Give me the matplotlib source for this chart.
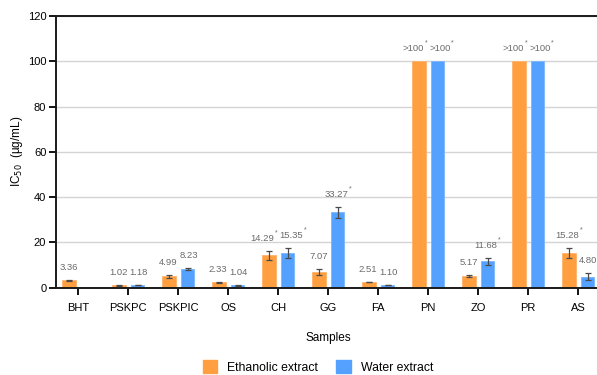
import numpy as np
import matplotlib
matplotlib.use("Agg")
import matplotlib.pyplot as plt
from matplotlib.patches import Patch

plt.rcParams['font.family'] = ['Liberation Sans', 'DejaVu Sans']

samples = ["BHT", "PSKPC", "PSKPIC", "OS", "CH", "GG", "FA", "PN", "ZO", "PR", "AS"]

# IC50 values (µg/mL); PN and PR exceed the tested range and are shown at 100
eth_vals = [3.36, 1.02, 4.99, 2.33, 14.29, 7.07, 2.51, 100, 5.17, 100, 15.28]
eth_err = [0.2, 0.15, 0.8, 0.3, 1.9, 1.3, 0.2, 0, 0.4, 0, 2.3]
eth_above = [False, False, False, False, False, False, False, True, False, True, False]
eth_star = [False, False, False, False, True, False, False, True, False, True, True]

wat_vals = [np.nan, 1.18, 8.23, 1.04, 15.35, 33.27, 1.10, 100, 11.68, 100, 4.80]
wat_err = [0, 0.15, 0.6, 0.1, 2.2, 2.4, 0.1, 0, 1.5, 0, 1.5]
wat_above = [False, False, False, False, False, False, False, True, False, True, False]
wat_star = [False, False, False, False, True, True, False, True, True, True, False]

orange = "#FF9F40"
blue = "#55A1FF"
label_color = "#6b6b6b"

fig = plt.figure(figsize=(5.97, 3.75), dpi=100)
ax = fig.add_axes([56 / 597, 1 - 287.7 / 375, (600.6 - 56) / 597, (287.7 - 16) / 375])

x = np.arange(len(samples))
w = 0.27
off = 0.188

ax.set_ylim(0, 120)
ax.set_xlim(-0.446, len(samples) - 1 + 0.446)
ax.set_yticks(np.arange(0, 121, 20))
ax.yaxis.grid(True, color="#d4d4d4", linewidth=1)
ax.set_axisbelow(True)

ax.bar(x - off, eth_vals, w, color=orange, edgecolor="#FFB26B", linewidth=0.6, zorder=2)
ax.bar(x + off, wat_vals, w, color=blue, edgecolor="#7AB6FF", linewidth=0.6, zorder=2)

for xs, vals, errs in [(x - off, eth_vals, eth_err), (x + off, wat_vals, wat_err)]:
    v = np.array(vals, dtype=float)
    e = np.array(errs, dtype=float)
    m = (e > 0) & ~np.isnan(v)
    ax.errorbar(xs[m], v[m], yerr=e[m], fmt="none", ecolor="#4a4a4a",
                elinewidth=0.9, capsize=2.2, capthick=0.9, zorder=3)

# value labels, one pair per sample
pairs = []
for i in range(len(samples)):
    pair = []
    for xi, vals, errs, above, stars in [(x[i] - off, eth_vals, eth_err, eth_above, eth_star),
                                         (x[i] + off, wat_vals, wat_err, wat_above, wat_star)]:
        v, e, a, s = vals[i], errs[i], above[i], stars[i]
        if np.isnan(v):
            pair.append(None)
            continue
        txt = f">{v:.0f}" if a else f"{v:.2f}"
        t = ax.annotate(txt, (xi, v + e), xytext=(0, 9), textcoords="offset points",
                        ha="center", va="center", fontsize=6.8, color=label_color, zorder=4)
        pair.append((t, s))
    pairs.append(pair)

star_w = 3.0  # px taken by the superscript asterisk
px2pt = 72 / fig.dpi
fig.canvas.draw()

# keep the asterisk inside each label's footprint and push crowded pairs apart
for pair in pairs:
    ext = []
    for item in pair:
        if item is None:
            ext.append(None)
            continue
        t, s = item
        bb = t.get_window_extent()
        ext.append([bb.x0, bb.x1 + (star_w if s else 0), bb.y0, bb.y1])
    for k, item in enumerate(pair):
        if item is not None and item[1]:
            item[0].xyann = (-star_w / 2 * px2pt, 9)
            ext[k][0] -= star_w / 2
            ext[k][1] -= star_w / 2
    if pair[0] is not None and pair[1] is not None:
        a, b = ext
        gap = 2.0
        vert = not (a[3] < b[2] or b[3] < a[2])
        overlap = a[1] + gap - b[0]
        if vert and overlap > 0:
            for k, sign in [(0, -1), (1, 1)]:
                dx, dy = pair[k][0].xyann
                pair[k][0].xyann = (dx + sign * overlap / 2 * px2pt, dy)

fig.canvas.draw()
inv = fig.transFigure.inverted()
for pair in pairs:
    for item in pair:
        if item is None or not item[1]:
            continue
        bb = item[0].get_window_extent()
        fx, fy = inv.transform((bb.x1 + 0.5, bb.y1 + 1))
        fig.text(fx, fy, "*", fontsize=5, color=label_color, ha="left", va="center")

ax.set_xticks(x)
ax.set_xticklabels(samples)
ax.tick_params(axis="x", length=5, width=1.3, labelsize=8, pad=6)
ax.tick_params(axis="y", length=5, width=1.3, labelsize=8, pad=2)

for side in ["left", "bottom", "top"]:
    ax.spines[side].set_linewidth(1.4)
    ax.spines[side].set_color("#1a1a1a")
ax.spines["right"].set_visible(False)

ax.set_xlabel("Samples", fontsize=8.5, labelpad=14)
ax.set_ylabel("IC$_{50}$  (µg/mL)", fontsize=8.5)
ax.yaxis.set_label_coords((17 - 56) / 544.6, 0.5)
ax.yaxis.label.set_va("center")

handles = [Patch(facecolor=orange, edgecolor=orange, label="Ethanolic extract"),
           Patch(facecolor=blue, edgecolor=blue, label="Water extract")]
fig.legend(handles=handles, loc="center", bbox_to_anchor=(318 / 597, 1 - 367 / 375),
           ncol=2, frameon=False, fontsize=8.8, handlelength=1.2, handleheight=1.2,
           columnspacing=1.5, handletextpad=0.8)

fig.savefig("out.png", dpi=100)
